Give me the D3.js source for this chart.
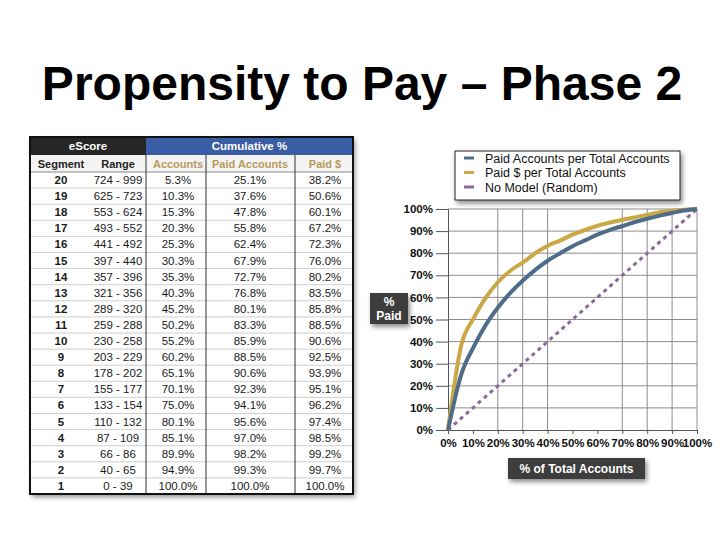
<!DOCTYPE html>
<html>
<head>
<meta charset="utf-8">
<script src="https://cdn.jsdelivr.net/npm/d3@7"></script>
<style>
  html, body { margin: 0; padding: 0; background: #fff; }
  svg text { font-family: "Liberation Sans", Arial, sans-serif; }
</style>
</head>
<body>
<div id="chart"></div>
<script>
// table data, top row = segment 20
const segments = [20, 19, 18, 17, 16, 15, 14, 13, 12, 11, 10, 9, 8, 7, 6, 5, 4, 3, 2, 1];
const ranges = ['724 - 999', '625 - 723', '553 - 624', '493 - 552', '441 - 492', '397 - 440',
  '357 - 396', '321 - 356', '289 - 320', '259 - 288', '230 - 258', '203 - 229', '178 - 202',
  '155 - 177', '133 - 154', '110 - 132', '87 - 109', '66 - 86', '40 - 65', '0 - 39'];
const accounts = [5.3, 10.3, 15.3, 20.3, 25.3, 30.3, 35.3, 40.3, 45.2, 50.2, 55.2, 60.2, 65.1,
  70.1, 75.0, 80.1, 85.1, 89.9, 94.9, 100.0];
const paidAccounts = [25.1, 37.6, 47.8, 55.8, 62.4, 67.9, 72.7, 76.8, 80.1, 83.3, 85.9, 88.5,
  90.6, 92.3, 94.1, 95.6, 97.0, 98.2, 99.3, 100.0];
const paidDollars = [38.2, 50.6, 60.1, 67.2, 72.3, 76.0, 80.2, 83.5, 85.8, 88.5, 90.6, 92.5,
  93.9, 95.1, 96.2, 97.4, 98.5, 99.2, 99.7, 100.0];

const pctTicks = [0, 10, 20, 30, 40, 50, 60, 70, 80, 90, 100];
const xGridTicks = [20, 30, 40, 70, 80, 90, 100];
const seriesNames = ['Paid Accounts per Total Accounts', 'Paid $ per Total Accounts', 'No Model (Random)'];
const seriesColors = ['#4e6d8b', '#c9a845', '#8a6a9c'];

const W = 720, H = 540;
const svg = d3.select('#chart').append('svg').attr('width', W).attr('height', H);

const defs = svg.append('defs');
const shadow = defs.append('filter').attr('id', 'shadow')
  .attr('x', '-10%').attr('y', '-10%').attr('width', '130%').attr('height', '140%');
shadow.append('feDropShadow').attr('dx', 2).attr('dy', 3).attr('stdDeviation', 2.5)
  .attr('flood-color', '#000').attr('flood-opacity', 0.45);

// title
svg.append('text')
  .attr('x', 362).attr('y', 100)
  .attr('text-anchor', 'middle')
  .attr('font-size', 48).attr('font-weight', 'bold').attr('fill', '#000')
  .text('Propensity to Pay \u2013 Phase 2');

// ---------- table ----------
const tx0 = 30, tx1 = 353, ty0 = 137;
const h1 = 18, h2 = 17, rowH = 16.1;
const colEdges = [tx0, 92, 146, 206, 295, tx1];
const colCenters = [61, 118, 178, 250, 325];
const bodyTop = ty0 + h1 + h2;
const bodyBottom = bodyTop + rowH * segments.length;

const table = svg.append('g');
table.append('rect')
  .attr('x', tx0).attr('y', ty0).attr('width', tx1 - tx0).attr('height', bodyBottom - ty0)
  .attr('fill', '#fff').attr('filter', 'url(#shadow)');

// header row 1
table.append('rect').attr('x', tx0).attr('y', ty0).attr('width', colEdges[2] - tx0).attr('height', h1)
  .attr('fill', '#262626');
table.append('rect').attr('x', colEdges[2]).attr('y', ty0).attr('width', tx1 - colEdges[2]).attr('height', h1)
  .attr('fill', '#3a5da6');
table.append('text').attr('x', (tx0 + colEdges[2]) / 2).attr('y', ty0 + 13)
  .attr('text-anchor', 'middle').attr('font-size', 11.5).attr('font-weight', 'bold').attr('fill', '#fff')
  .text('eScore');
table.append('text').attr('x', (colEdges[2] + tx1) / 2).attr('y', ty0 + 13)
  .attr('text-anchor', 'middle').attr('font-size', 11.5).attr('font-weight', 'bold').attr('fill', '#fff')
  .text('Cumulative %');

// header row 2
const headers = ['Segment', 'Range', 'Accounts', 'Paid Accounts', 'Paid $'];
table.append('rect').attr('x', tx0).attr('y', ty0 + h1).attr('width', tx1 - tx0).attr('height', h2)
  .attr('fill', '#f4f4f4');
table.selectAll('.hdr').data(headers).enter().append('text')
  .attr('class', 'hdr')
  .attr('x', (d, i) => colCenters[i]).attr('y', ty0 + h1 + 12.5)
  .attr('text-anchor', 'middle').attr('font-size', 11).attr('font-weight', 'bold')
  .attr('fill', (d, i) => i < 2 ? '#222' : '#b89a5c')
  .text(d => d);

// row separators
table.selectAll('.rowline').data(d3.range(segments.length + 1)).enter().append('line')
  .attr('x1', tx0).attr('x2', tx1)
  .attr('y1', i => bodyTop + i * rowH).attr('y2', i => bodyTop + i * rowH)
  .attr('stroke', i => i === 0 ? '#888' : '#cfcfcf').attr('stroke-width', 1);

// column separators
[2, 3, 4].forEach(c => {
  table.append('line')
    .attr('x1', colEdges[c]).attr('x2', colEdges[c])
    .attr('y1', ty0 + h1).attr('y2', bodyBottom)
    .attr('stroke', '#333').attr('stroke-width', 1);
});

const rows = segments.map((s, i) => [String(s), ranges[i],
  accounts[i].toFixed(1) + '%', paidAccounts[i].toFixed(1) + '%', paidDollars[i].toFixed(1) + '%']);

rows.forEach((r, i) => {
  table.selectAll('.cell' + i).data(r).enter().append('text')
    .attr('x', (d, j) => colCenters[j])
    .attr('y', bodyTop + i * rowH + 12)
    .attr('text-anchor', 'middle').attr('font-size', 11.5)
    .attr('font-weight', (d, j) => j === 0 ? 'bold' : 'normal')
    .attr('fill', '#1a1a1a')
    .text(d => d);
});

table.append('rect')
  .attr('x', tx0).attr('y', ty0).attr('width', tx1 - tx0).attr('height', bodyBottom - ty0)
  .attr('fill', 'none').attr('stroke', '#111').attr('stroke-width', 2);

// ---------- chart ----------
const x = d3.scaleLinear().domain([0, 100]).range([448, 697]);
const y = d3.scaleLinear().domain([0, 100]).range([430, 209]);
const chart = svg.append('g');

// horizontal grid
chart.selectAll('.hgrid').data(pctTicks.slice(1)).enter().append('line')
  .attr('x1', x(0)).attr('x2', x(100))
  .attr('y1', d => y(d)).attr('y2', d => y(d))
  .attr('stroke', '#8c8c8c').attr('stroke-width', 1);
// vertical grid
chart.selectAll('.vgrid').data(xGridTicks).enter().append('line')
  .attr('x1', d => x(d)).attr('x2', d => x(d))
  .attr('y1', y(0)).attr('y2', y(100))
  .attr('stroke', '#8c8c8c').attr('stroke-width', 1);

const yAxis = chart.append('g').attr('transform', `translate(${x(0)},0)`)
  .call(d3.axisLeft(y).tickValues(pctTicks).tickFormat(d => d + '%').tickSize(12).tickPadding(3));
const xAxis = chart.append('g').attr('transform', `translate(0,${y(0)})`)
  .call(d3.axisBottom(x).tickValues(pctTicks).tickFormat(d => d + '%').tickSize(4).tickPadding(5));
[yAxis, xAxis].forEach(a => {
  a.select('.domain').attr('stroke', '#555');
  a.selectAll('.tick line').attr('stroke', '#555');
  a.selectAll('text').attr('font-size', 11.5).attr('font-weight', 'bold').attr('fill', '#111')
    .attr('font-family', '"Liberation Sans", Arial, sans-serif');
});

// curves
const line = d3.line().x(d => x(d[0])).y(d => y(d[1])).curve(d3.curveMonotoneX);
const blueData = [[0, 0]].concat(accounts.map((a, i) => [a, paidAccounts[i]]));
const goldData = [[0, 0]].concat(accounts.map((a, i) => [a, paidDollars[i]]));
const randomData = [[0, 0], [100, 100]];

chart.append('path').datum(randomData).attr('d', line)
  .attr('fill', 'none').attr('stroke', seriesColors[2]).attr('stroke-width', 3)
  .attr('stroke-dasharray', '4,4');
chart.append('path').datum(goldData).attr('d', line)
  .attr('fill', 'none').attr('stroke', seriesColors[1]).attr('stroke-width', 4);
chart.append('path').datum(blueData).attr('d', line)
  .attr('fill', 'none').attr('stroke', seriesColors[0]).attr('stroke-width', 4);

// legend
const legend = svg.append('g');
legend.append('rect').attr('x', 455).attr('y', 151).attr('width', 225).attr('height', 49)
  .attr('fill', '#fff').attr('stroke', '#222').attr('stroke-width', 1).attr('filter', 'url(#shadow)');
seriesNames.forEach((name, i) => {
  const ly = 158 + i * 14.5;
  legend.append('line').attr('x1', 464).attr('x2', 474).attr('y1', ly).attr('y2', ly)
    .attr('stroke', seriesColors[i]).attr('stroke-width', 3);
  legend.append('text').attr('x', 485).attr('y', ly + 4.5)
    .attr('font-size', 12.5).attr('fill', '#111').text(name);
});

// axis title boxes
const yBox = svg.append('g');
yBox.append('rect').attr('x', 370).attr('y', 293).attr('width', 38).attr('height', 31)
  .attr('fill', '#3c3c3c').attr('filter', 'url(#shadow)');
yBox.append('text').attr('x', 389).attr('y', 306).attr('text-anchor', 'middle')
  .attr('font-size', 12).attr('font-weight', 'bold').attr('fill', '#fff').text('%');
yBox.append('text').attr('x', 389).attr('y', 320).attr('text-anchor', 'middle')
  .attr('font-size', 12).attr('font-weight', 'bold').attr('fill', '#fff').text('Paid');

const xBox = svg.append('g');
xBox.append('rect').attr('x', 508).attr('y', 458).attr('width', 137).attr('height', 21)
  .attr('fill', '#3c3c3c').attr('filter', 'url(#shadow)');
xBox.append('text').attr('x', 576.5).attr('y', 473).attr('text-anchor', 'middle')
  .attr('font-size', 12).attr('font-weight', 'bold').attr('fill', '#fff').text('% of Total Accounts');
</script>
</body>
</html>
